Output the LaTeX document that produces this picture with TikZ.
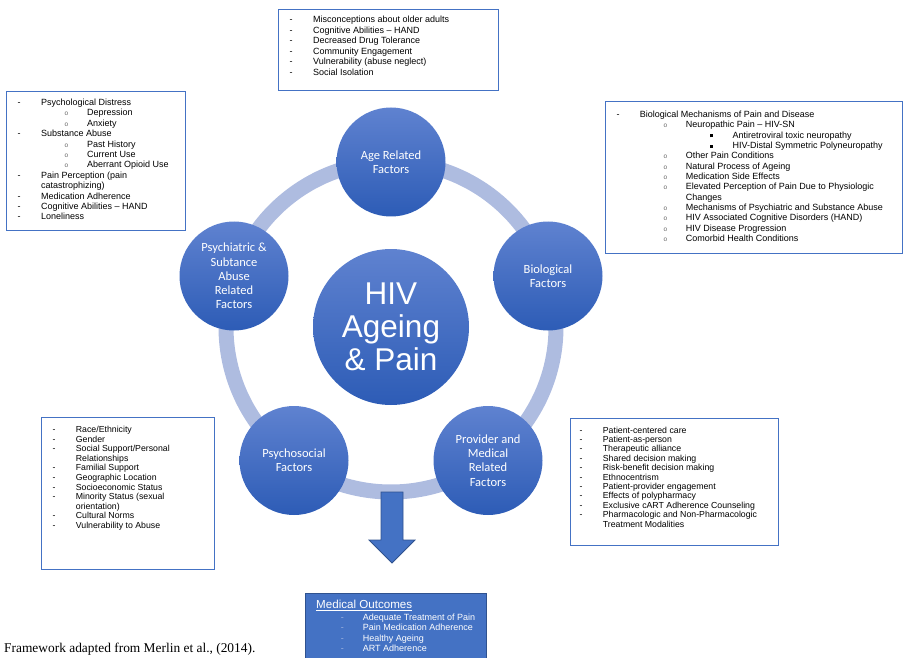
\documentclass[tikz,border=0pt]{standalone}
\usepackage{fontspec}
\setmainfont{Liberation Sans}
\newfontfamily\calibri{Carlito}
\newfontfamily\timesfont{Liberation Serif}

\definecolor{officeblue}{RGB}{68,114,196}
\definecolor{darkblue}{RGB}{47,82,143}
\definecolor{circtop}{RGB}{95,130,208}
\definecolor{circbot}{RGB}{45,92,182}
\definecolor{ringblue}{RGB}{174,188,224}
\definecolor{dashblue}{RGB}{160,180,225}

\newlength\listind
\setlength\listind{23.4pt}
\newcommand{\firstlvl}[1]{\makebox[\listind][l]{-}#1}
\newcommand{\secondlvl}[1]{\hspace*{47pt}\makebox[22.4pt][l]{\fontsize{6.5}{6.5}\selectfont\color{black!60}o}#1}
\newcommand{\thirdlvl}[1]{\hspace*{93.7pt}\makebox[22.3pt][l]{\rule[0.8pt]{3pt}{3pt}}#1}
\newcommand{\wrapline}[2]{\hspace*{#1}#2}

\begin{document}
\begin{tikzpicture}[x=1pt, y=-1pt,
    infobox/.style={draw=officeblue, line width=0.8pt, anchor=north west, inner sep=0pt},
    listtext/.style={anchor=base west, align=left, inner sep=0pt, font=\fontsize{9}{10.5}\selectfont},
    factor/.style={circle, minimum size=109pt, inner sep=0pt, top color=circtop, bottom color=circbot,
                   text=white, align=center, font=\calibri\fontsize{12.5}{14.2}\selectfont},
    hub/.style={circle, minimum size=156pt, inner sep=0pt, top color=circtop, bottom color=circbot,
                text=white, align=center, font=\fontsize{31.5}{33}\selectfont},
    ring/.style={draw=ringblue, line width=15pt},
    outarrow/.style={fill=officeblue, draw=darkblue, line width=0.8pt, line join=miter}]
    \useasboundingbox (0,0) rectangle (903,658);

    % centre and the five factor circles
    \node [hub] (hub) at (391,327) {HIV\\Ageing\\\& Pain};
    \draw [ring] (hub.center) circle[radius=165pt];
    \node [factor] (age) at (391,162) {Age Related\\Factors};
    \node [factor] (bio) at (548,276) {Biological\\Factors};
    \node [factor] (provider) at (488,460.5) {Provider and\\Medical\\Related\\Factors};
    \node [factor] (social) at (294,460.5) {Psychosocial\\Factors};
    \node [factor] (psych) at (234,276) {Psychiatric \&\\Subtance\\Abuse\\Related\\Factors};

    % arrow down to the outcomes
    \filldraw [outarrow] (381,492) -- (403,492) -- (403,540) -- (415,540) -- (392,563)
        -- (369,540) -- (381,540) -- cycle;

    % boxes (lists are placed by the baseline of their last line)
    \node [infobox, minimum width=219.5pt, minimum height=81pt] (agebox) at (278,9) {};
    \node [infobox, minimum width=179pt, minimum height=139pt] (psychbox) at (6,91) {};
    \node [infobox, minimum width=296.5pt, minimum height=151.5pt] (biobox) at (605,101.5) {};
    \node [infobox, minimum width=173pt, minimum height=152.5pt] (socialbox) at (41,416.5) {};
    \node [infobox, minimum width=208pt, minimum height=127pt] (providerbox) at (570,418) {};
    \node [infobox, fill=officeblue, draw=darkblue, minimum width=181pt, minimum height=70pt] (outbox) at (305,592.5) {};

    \node [listtext] (agelist) at (289.5,75.5) {%
        \firstlvl{Misconceptions about older adults}\\
        \firstlvl{Cognitive Abilities -- HAND}\\
        \firstlvl{Decreased Drug Tolerance}\\
        \firstlvl{Community Engagement}\\
        \firstlvl{Vulnerability (abuse neglect)}\\
        \firstlvl{Social Isolation}};

    \node [listtext, font=\fontsize{9}{10.4}\selectfont] (psychlist) at (17.5,219.8) {%
        \firstlvl{Psychological Distress}\\
        \secondlvl{Depression}\\
        \secondlvl{Anxiety}\\
        \firstlvl{Substance Abuse}\\
        \secondlvl{Past History}\\
        \secondlvl{Current Use}\\
        \secondlvl{Aberrant Opioid Use}\\
        \firstlvl{Pain Perception (pain}\\
        \wrapline{\listind}{catastrophizing)}\\
        \firstlvl{Medication Adherence}\\
        \firstlvl{Cognitive Abilities -- HAND}\\
        \firstlvl{Loneliness}};

    \node [listtext, font=\fontsize{9}{10.35}\selectfont] (biolist) at (616.3,241.7) {%
        \firstlvl{Biological Mechanisms of Pain and Disease}\\
        \secondlvl{Neuropathic Pain -- HIV-SN}\\
        \thirdlvl{Antiretroviral toxic neuropathy}\\
        \thirdlvl{HIV-Distal Symmetric Polyneuropathy}\\
        \secondlvl{Other Pain Conditions}\\
        \secondlvl{Natural Process of Ageing}\\
        \secondlvl{Medication Side Effects}\\
        \secondlvl{Elevated Perception of Pain Due to Physiologic}\\
        \wrapline{69.4pt}{Changes}\\
        \secondlvl{Mechanisms of Psychiatric and Substance Abuse}\\
        \secondlvl{HIV Associated Cognitive Disorders (HAND)}\\
        \secondlvl{HIV Disease Progression}\\
        \secondlvl{Comorbid Health Conditions}};

    \node [listtext, font=\fontsize{8.75}{9.6}\selectfont] (sociallist) at (52.3,528.5) {%
        \firstlvl{Race/Ethnicity}\\
        \firstlvl{Gender}\\
        \firstlvl{Social Support/Personal}\\
        \wrapline{\listind}{Relationships}\\
        \firstlvl{Familial Support}\\
        \firstlvl{Geographic Location}\\
        \firstlvl{Socioeconomic Status}\\
        \firstlvl{Minority Status (sexual}\\
        \wrapline{\listind}{orientation)}\\
        \firstlvl{Cultural Norms}\\
        \firstlvl{Vulnerability to Abuse}};

    \node [listtext, font=\fontsize{8.75}{9.4}\selectfont] (providerlist) at (579.3,527) {%
        \firstlvl{Patient-centered care}\\
        \firstlvl{Patient-as-person}\\
        \firstlvl{Therapeutic alliance}\\
        \firstlvl{Shared decision making}\\
        \firstlvl{Risk-benefit decision making}\\
        \firstlvl{Ethnocentrism}\\
        \firstlvl{Patient-provider engagement}\\
        \firstlvl{Effects of polypharmacy}\\
        \firstlvl{Exclusive cART Adherence Counseling}\\
        \firstlvl{Pharmacologic and Non-Pharmacologic}\\
        \wrapline{\listind}{Treatment Modalities}};

    % outcomes
    \node [listtext, text=white, font=\fontsize{11.6}{13}\selectfont] (outtitle) at (316,608.5) {\underline{Medical Outcomes}};
    \node [listtext, text=white, font=\fontsize{9}{10.5}\selectfont] (outlist) at (340.7,651.5) {%
        \makebox[22pt][l]{\color{dashblue}-}Adequate Treatment of Pain\\
        \makebox[22pt][l]{\color{dashblue}-}Pain Medication Adherence\\
        \makebox[22pt][l]{\color{dashblue}-}Healthy Ageing\\
        \makebox[22pt][l]{\color{dashblue}-}ART Adherence};

    \node [anchor=base west, inner sep=0pt, font=\timesfont\fontsize{13.4}{15}\selectfont] (caption) at (4,652) {Framework adapted from Merlin et al., (2014).};
\end{tikzpicture}
\end{document}
